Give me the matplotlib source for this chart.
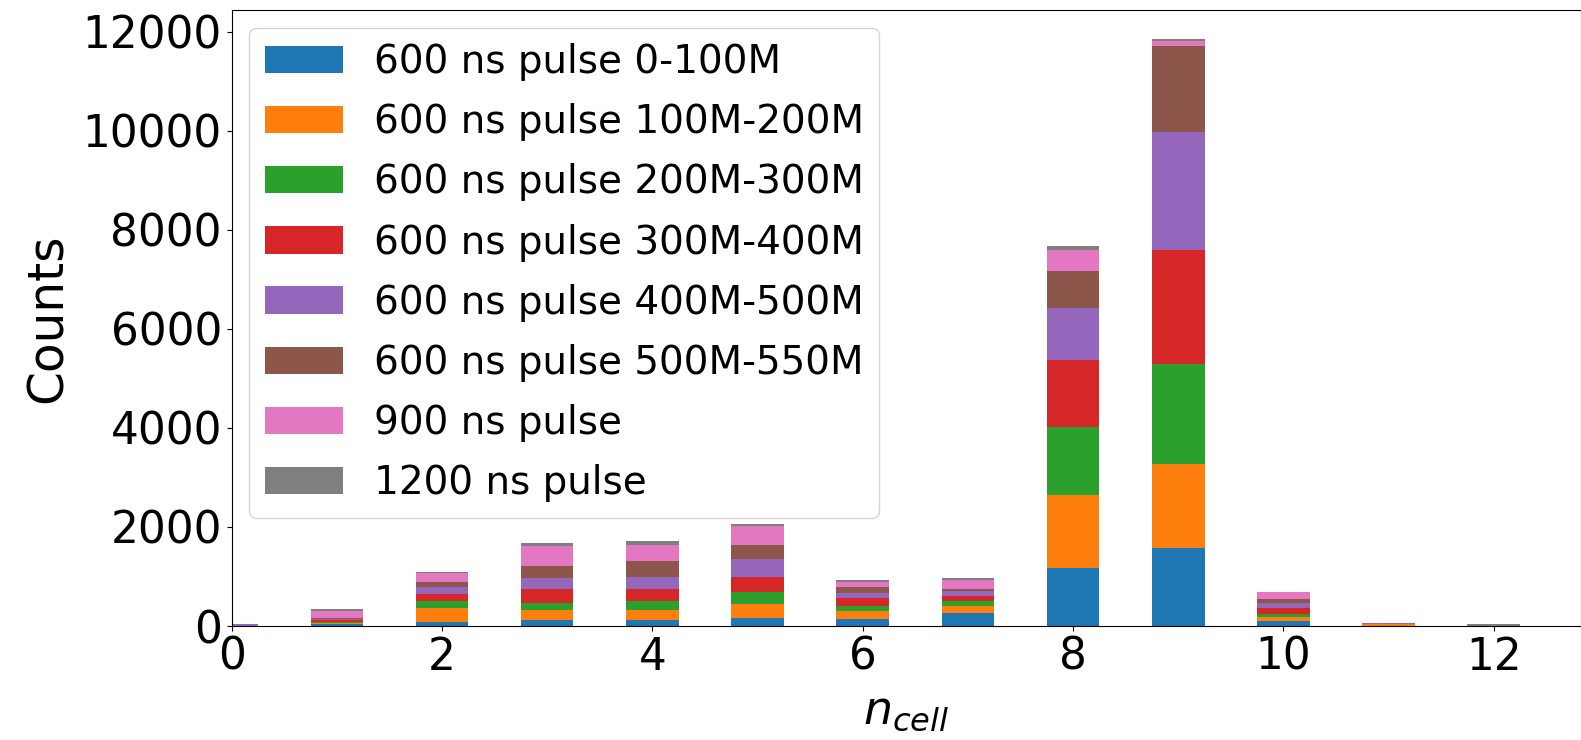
import numpy as np
import matplotlib.pyplot as plt

# n_cell bins
ncell = np.arange(13)

labels = ['600 ns pulse 0-100M', '600 ns pulse 100M-200M', '600 ns pulse 200M-300M',
          '600 ns pulse 300M-400M', '600 ns pulse 400M-500M', '600 ns pulse 500M-550M',
          '900 ns pulse', '1200 ns pulse']

# counts per n_cell, one list per sample
p600_0_100 = [0, 40, 80, 114, 114, 154, 147, 255, 1181, 1571, 107, 0, 0]
p600_100_200 = [0, 20, 281, 214, 214, 281, 147, 147, 1456, 1698, 74, 45, 0]
p600_200_300 = [0, 30, 141, 141, 174, 248, 107, 107, 1383, 2027, 67, 0, 0]
p600_300_400 = [0, 35, 147, 281, 248, 315, 174, 100, 1349, 2302, 121, 0, 0]
p600_400_500 = [40, 10, 134, 214, 248, 348, 100, 100, 1060, 2382, 100, 20, 0]
p600_500_550 = [0, 25, 114, 241, 315, 295, 107, 40, 745, 1731, 67, 0, 0]
p900 = [0, 145, 181, 402, 328, 382, 114, 188, 423, 101, 148, 0, 0]
p1200 = [0, 30, 10, 67, 67, 33, 33, 33, 80, 47, 5, 0, 35]

series = [p600_0_100, p600_100_200, p600_200_300, p600_300_400,
          p600_400_500, p600_500_550, p900, p1200]

fig = plt.figure(figsize=(15.81, 7.40), dpi=100)
ax = fig.add_axes([231.7 / 1581, 1 - 626 / 740, (1581 - 231.7) / 1581, (626 - 10) / 740])

bottom = np.zeros(len(ncell))
for vals, lab in zip(series, labels):
    vals = np.array(vals, dtype=float)
    ax.bar(ncell, vals, width=0.5, bottom=bottom, label=lab)
    bottom += vals

ax.set_xlim(0, 12.83)
ax.set_ylim(0, 12440)
ax.set_xticks([0, 2, 4, 6, 8, 10, 12])
ax.set_yticks(np.arange(0, 12001, 2000))
ax.tick_params(labelsize=31.5)
ax.set_xlabel('$n_{cell}$', fontsize=33, labelpad=7)
ax.set_ylabel('Counts', fontsize=35, labelpad=8)
ax.legend(loc='upper left', fontsize=28, labelspacing=0.57, borderaxespad=0.45)

plt.savefig('out.png', dpi=100)
